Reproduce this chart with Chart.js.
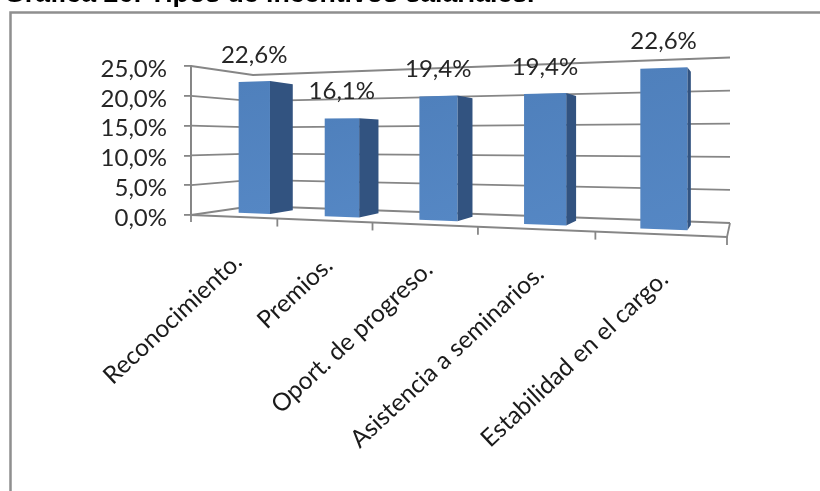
<!DOCTYPE html>
<html><head><meta charset="utf-8">
<style>html,body{margin:0;padding:0;background:#fff}#w{width:820px;height:491px}</style>
<script src="https://cdn.jsdelivr.net/npm/chart.js@4"></script>
</head><body><div id="w"><canvas id="c"></canvas></div>
<script>
const titleText = 'Gráfica 26: Tipos de incentivos salariales.';
const categories = ['Reconocimiento.','Premios.','Oport. de progreso.','Asistencia a seminarios.','Estabilidad en el cargo.'];
const shares = [22.6,16.1,19.4,19.4,22.6];
const yTicks = [0,5,10,15,20,25];

const fmt = v => v.toFixed(1).replace('.',',') + '%';
// perspective planes of the 3-D box: x at left/right, y of value min/max at left/right
const FRONT = {xl:191,xr:727,l0:215,l1:66,r0:237,r1:43};
const BACK  = {xl:253,xr:730,l0:206,l1:75,r0:223,r1:57.5};
function onPlane(p,u,v){
  const k=(p.l0-p.l1)/(p.r0-p.r1), d=1+(k-1)*u;
  const x=(p.xl+(p.xr*k-p.xl)*u)/d;
  const y0=(p.l0+(p.r0*k-p.l0)*u)/d, y1=(p.l1+(p.r1*k-p.l1)*u)/d;
  return [x,y0+(y1-y0)*v];
}
function project(u,v,w){
  const a=onPlane(FRONT,u,v), b=onPlane(BACK,u,v);
  return [a[0]+(b[0]-a[0])*w, a[1]+(b[1]-a[1])*w];
}
function poly(ctx,pts,fill,stroke,lw){
  ctx.beginPath();pts.forEach((p,i)=>i?ctx.lineTo(p[0],p[1]):ctx.moveTo(p[0],p[1]));
  if(fill){ctx.closePath();ctx.fillStyle=fill;ctx.fill();}
  if(stroke){ctx.strokeStyle=stroke;ctx.lineWidth=lw||1.5;ctx.stroke();}
}
const GRID='#868686', W1=0.36, W2=0.76;
const box3d={id:'box3d',
  beforeDatasetsDraw(chart){
    const ctx=chart.ctx,y=chart.scales.y,a=chart.chartArea;
    ctx.save();
    // page frame
    ctx.strokeStyle='#8f8f8f';ctx.lineWidth=2.5;
    ctx.beginPath();ctx.moveTo(10.5,495);ctx.lineTo(10.5,12.5);ctx.lineTo(825,12.5);ctx.stroke();
    // walls and floor grid
    y.ticks.forEach(t=>{
      const v=(y.bottom-y.getPixelForValue(t.value))/(y.bottom-y.top);
      poly(ctx,[project(0,v,0),project(0,v,1),project(1,v,1)],null,GRID,1.8);
    });
    poly(ctx,[project(0,0,0),project(1,0,0),project(1,0,1)],null,GRID,1.8);
    poly(ctx,[project(0,1,0),project(0,0,0),[FRONT.xl,222]],null,GRID,1.8);
    for(let i=1;i<=categories.length;i++){
      const p=project(i/categories.length,0,0);
      poly(ctx,[p,[p[0],p[1]+8]],null,GRID,1.8);
    }
    // category labels
    ctx.fillStyle='#1a1a1a';ctx.font='24.5px Lato';ctx.textAlign='right';ctx.textBaseline='middle';
    const x=chart.scales.x;
    chart.getDatasetMeta(0).data.forEach((el,i)=>{
      const p=project((el.x-a.left)/(a.right-a.left),0,0);
      ctx.save();ctx.translate(p[0]+5,p[1]+41);ctx.rotate(-43*Math.PI/180);
      ctx.fillText(x.getLabelForValue(i),0,0);ctx.restore();
    });
    ctx.restore();
  },
  afterDatasetsDraw(chart){
    const ctx=chart.ctx,a=chart.chartArea;
    ctx.save();
    chart.getDatasetMeta(0).data.forEach((el,i)=>{
      const W=a.right-a.left,H=a.bottom-a.top;
      const ul=(el.x-el.width/2-a.left)/W, ur=(el.x+el.width/2-a.left)/W;
      const vt=(a.bottom-el.y)/H, vb=0;
      const f=[project(ul,vb,W1),project(ur,vb,W1),project(ur,vt,W1),project(ul,vt,W1)];
      const s=[project(ur,vb,W1),project(ur,vb,W2),project(ur,vt,W2),project(ur,vt,W1)];
      poly(ctx,s,'#325380');
      const g=ctx.createLinearGradient(f[0][0],f[3][1],f[1][0],f[0][1]);
      g.addColorStop(0,'#4f80bc');g.addColorStop(1,'#5587c4');
      poly(ctx,f,g);
      const mid=project((ul+ur)/2,vt,W1);
      ctx.fillStyle='#262626';ctx.font='24px Lato';ctx.textAlign='center';ctx.textBaseline='middle';
      ctx.fillText(fmt(shares[i]),mid[0],mid[1]-26.7);
    });
    ctx.restore();
  }
};
new Chart(document.getElementById('c'),{
  type:'bar',
  data:{labels:categories,datasets:[{data:shares,backgroundColor:'rgba(0,0,0,0)',borderWidth:0,categoryPercentage:0.375,barPercentage:1}]},
  plugins:[box3d],
  options:{
    responsive:true,maintainAspectRatio:false,animation:false,
    layout:{padding:{left:4,right:93,bottom:276,top:0}},
    plugins:{legend:{display:false},tooltip:{enabled:false},
      title:{display:true,text:titleText,align:'start',color:'#000',
        font:{family:'Liberation Sans',size:26.7,weight:'bold',lineHeight:1.2},padding:{top:-21,bottom:55}}},
    scales:{
      x:{display:false,offset:true},
      y:{min:0,max:25,
        afterBuildTicks(s){s.ticks=yTicks.map(value=>({value}));},
        afterFit(s){s.width=187;},
        border:{color:GRID,width:1.8},
        grid:{drawOnChartArea:false,drawTicks:true,tickLength:7,color:GRID,lineWidth:1.8},
        ticks:{color:'#262626',font:{family:'Lato',size:24},padding:17,labelOffset:3,autoSkip:false,callback:v=>fmt(v)}}
    }
  }
});
</script></body></html>
